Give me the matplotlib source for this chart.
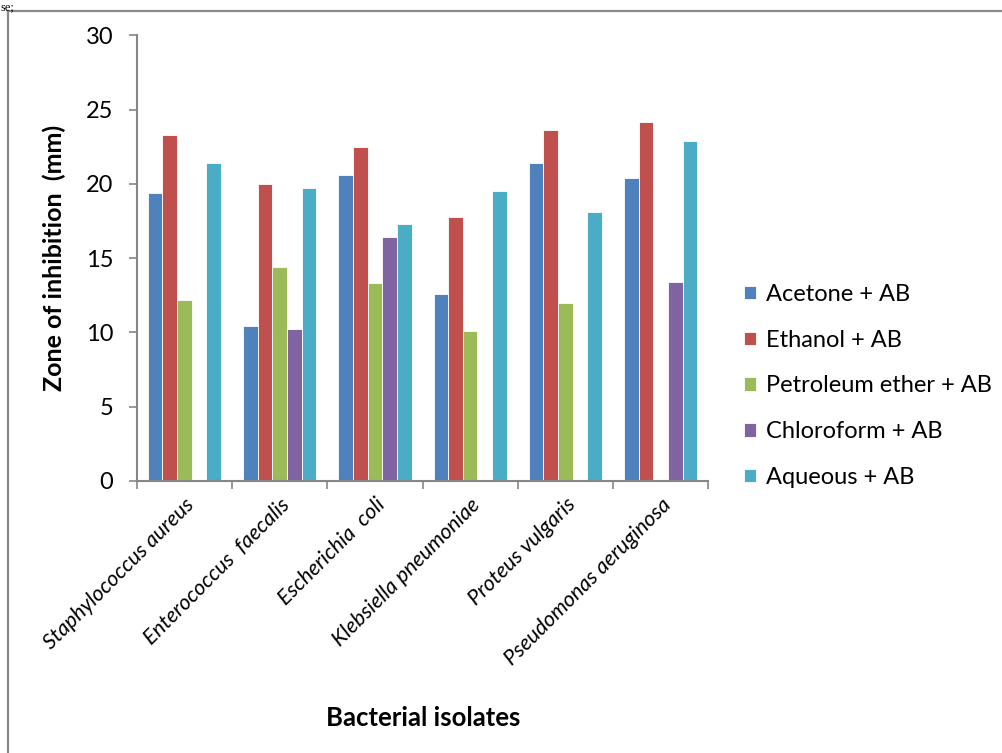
import numpy as np
import matplotlib.pyplot as plt
from matplotlib.lines import Line2D

isolates = ["Staphylococcus aureus", "Enterococcus  faecalis", "Escherichia  coli",
            "Klebsiella pneumoniae", "Proteus vulgaris", "Pseudomonas aeruginosa"]
series = ["Acetone + AB", "Ethanol + AB", "Petroleum ether + AB",
          "Chloroform + AB", "Aqueous + AB"]
acetone = [19.4, 10.4, 20.6, 12.55, 21.4, 20.4]
ethanol = [23.3, 20.0, 22.5, 17.75, 23.6, 24.2]
petroleum = [12.2, 14.4, 13.3, 10.1, 12.0, np.nan]
chloroform = [np.nan, 10.2, 16.4, np.nan, np.nan, 13.4]
aqueous = [21.4, 19.7, 17.3, 19.5, 18.1, 22.9]
colors = ["#4F81BD", "#C0504D", "#9BBB59", "#8064A2", "#4BACC6"]

plt.rcParams["font.family"] = ["Lato", "DejaVu Sans"]

fig = plt.figure(figsize=(10.03, 7.53), dpi=100)
ax = fig.add_axes([0.1363, 0.3616, 0.5699, 0.5913])

x = np.arange(len(isolates))
w = 1 / 6.5
for i, (vals, name, c) in enumerate(zip([acetone, ethanol, petroleum, chloroform, aqueous],
                                        series, colors)):
    ax.bar(x + (i - 2) * w, vals, width=w, color=c, label=name,
           edgecolor="#ffffff", linewidth=0.6)

ax.set_xlim(-0.5, len(isolates) - 0.5)
ax.set_ylim(0, 30)
ax.set_yticks(range(0, 31, 5))
ax.tick_params(axis="y", direction="out", length=6, width=1.2, color="#868686",
               labelsize=17, pad=11)

# category boundary ticks, labels at centers
ax.set_xticks(np.arange(-0.5, len(isolates)), minor=False)
ax.set_xticklabels([])
ax.set_xticks(x, minor=True)
ax.set_xticklabels(isolates, minor=True, rotation=45, ha="right",
                   rotation_mode="anchor", fontstyle="italic", fontsize=15.5)
ax.tick_params(axis="x", which="major", direction="out", length=6, width=1.2,
               color="#868686")
ax.tick_params(axis="x", which="minor", length=0, pad=10)

for s in ["top", "right"]:
    ax.spines[s].set_visible(False)
for s in ["left", "bottom"]:
    ax.spines[s].set_color("#868686")
    ax.spines[s].set_linewidth(1.5)

ax.set_ylabel("Zone of inhibition  (mm)", fontsize=18, fontweight="bold")
ax.yaxis.set_label_coords(-0.124, 0.5)
fig.text(0.4215, 1 - 718 / 753, "Bacterial isolates", fontsize=18.5, fontweight="bold",
         ha="center", va="center")

fig.legend(loc="center left", bbox_to_anchor=(744 / 1003, 1 - 386 / 753),
           frameon=False, fontsize=17, handlelength=0.5, handleheight=0.5,
           handletextpad=0.45, labelspacing=1.05, borderpad=0, borderaxespad=0)

# outer chart border (left and top edges only)
fig.add_artist(Line2D([8 / 1003, 8 / 1003], [0, 1 - 11 / 753],
                      transform=fig.transFigure, color="#8a8a8a", lw=1.6))
fig.add_artist(Line2D([8 / 1003, 1], [1 - 11 / 753, 1 - 11 / 753],
                      transform=fig.transFigure, color="#8a8a8a", lw=1.6))
fig.text(1 / 1003, 1 - 1 / 753, "se;", fontsize=9, family="Liberation Serif",
         va="top", ha="left")

fig.savefig("out.png", dpi=100)
